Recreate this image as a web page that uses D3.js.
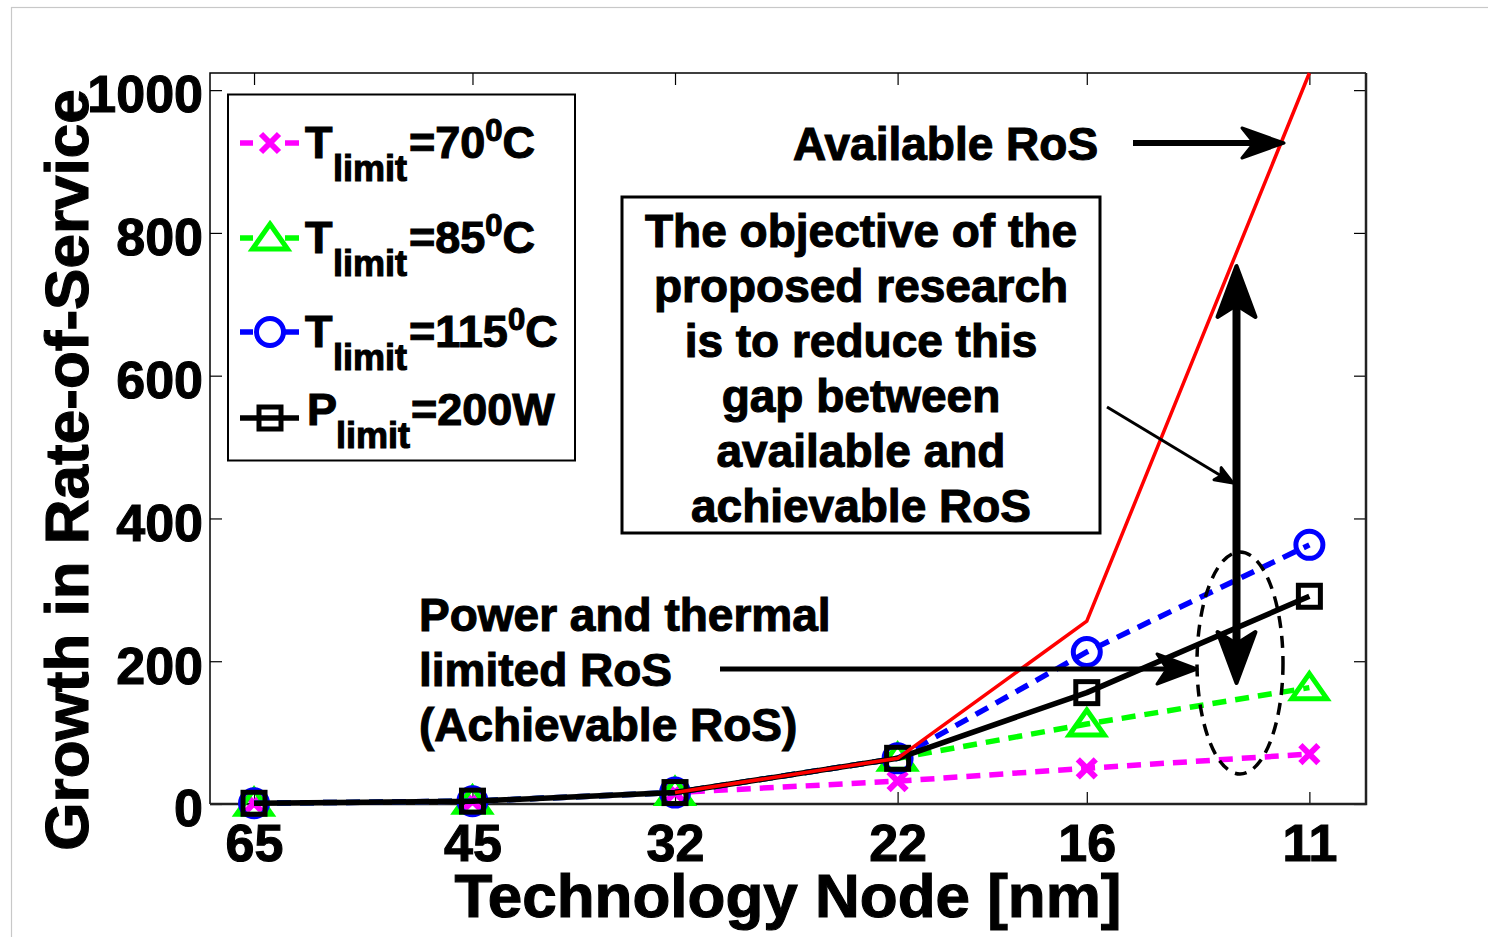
<!DOCTYPE html>
<html>
<head>
<meta charset="utf-8">
<script src="https://cdn.jsdelivr.net/npm/d3@7"></script>
<style>
  html, body { margin: 0; padding: 0; background: #fff; }
  svg { display: block; }
  text { font-family: "Liberation Sans", Arial, Helvetica, sans-serif; font-weight: bold; fill: #000;
         stroke: #000; stroke-width: 1.1px; }
</style>
</head>
<body>
<svg id="chart" width="1488" height="937"></svg>
<script>
// Technology nodes (nm) on a reversed log axis
const nodes = [65, 45, 32, 22, 16, 11];
const yTicks = [0, 200, 400, 600, 800, 1000];

// Growth in rate-of-service for each constraint
const tLimit70  = [1, 4, 16, 32, 50, 70];
const tLimit85  = [1, 4, 16, 64, 112, 163];
const tLimit115 = [1, 4, 16, 64, 213, 363];
const pLimit200 = [1, 4, 16, 64, 156, 291];
const availableRoS = [null, null, 16, 64, 256, 1024];

(function () {
const svg = d3.select("#chart");
const FONT = 52;

// light frame of the figure
svg.append("rect").attr("x", 11.5).attr("y", 7.5).attr("width", 1600).attr("height", 1000)
  .attr("fill", "none").attr("stroke", "#c8c8c8").attr("stroke-width", 1.2);

const pL = 210, pR = 1366, pT = 73, pB = 804;
const x = d3.scaleLog().domain([70, 10]).range([pL, pR]);
const y = d3.scaleLinear().domain([0, 1024]).range([pB, pT]);

// axes (inward ticks on all four sides)
const gx = svg.append("g").attr("transform", `translate(0,${pB})`)
  .call(d3.axisBottom(x).tickValues(nodes).tickFormat(d3.format("d")).tickSize(-12).tickSizeOuter(0).tickPadding(20));
const gxt = svg.append("g").attr("transform", `translate(0,${pT})`)
  .call(d3.axisTop(x).tickValues(nodes).tickFormat("").tickSize(-12).tickSizeOuter(0));
const gy = svg.append("g").attr("transform", `translate(${pL},0)`)
  .call(d3.axisLeft(y).tickValues(yTicks).tickFormat(d3.format("d")).tickSize(-12).tickSizeOuter(0).tickPadding(7));
const gyr = svg.append("g").attr("transform", `translate(${pR},0)`)
  .call(d3.axisRight(y).tickValues(yTicks).tickFormat("").tickSize(-12).tickSizeOuter(0));
[gx, gxt, gy, gyr].forEach(g => {
  g.select(".domain").remove();
  g.selectAll(".tick line").attr("stroke", "#000").attr("stroke-width", 1.2);
  g.selectAll(".tick text").attr("font-size", FONT).attr("font-family", null).attr("fill", "#000");
});
gy.selectAll(".tick text").attr("dy", "0.42em");

// plot box
svg.append("path")
  .attr("d", `M${pL},${pB}V${pT}H${pR}`)
  .attr("fill", "none").attr("stroke", "#000").attr("stroke-width", 1.5);
svg.append("path")
  .attr("d", `M${pL},${pB}H${pR}V${pT}`)
  .attr("fill", "none").attr("stroke", "#222").attr("stroke-width", 2.5);

// axis titles
svg.append("text").attr("x", (pL + pR) / 2).attr("y", 917)
  .attr("text-anchor", "middle").attr("font-size", 62).text("Technology Node [nm]");
svg.append("text").attr("transform", "translate(88,470) rotate(-90)")
  .attr("text-anchor", "middle").attr("font-size", 62).text("Growth in Rate-of-Service");

// marker shapes
const markers = {
  cross: (g, c) => g.append("path").attr("d", "M-9,-9L9,9M-9,9L9,-9")
    .attr("stroke", c).attr("stroke-width", 6).attr("fill", "none"),
  triangle: (g, c) => g.append("path").attr("d", "M0,-14L17.5,11L-17.5,11Z")
    .attr("stroke", c).attr("stroke-width", 5).attr("fill", "none").attr("stroke-linejoin", "miter"),
  circle: (g, c) => g.append("circle").attr("r", 13.5)
    .attr("stroke", c).attr("stroke-width", 5).attr("fill", "none"),
  square: (g, c) => g.append("rect").attr("x", -11).attr("y", -11).attr("width", 22).attr("height", 22)
    .attr("stroke", c).attr("stroke-width", 5).attr("fill", "none")
};

const series = [
  { values: tLimit70,  color: "#ff00ff", dash: "14,9", width: 5.5, marker: "cross" },
  { values: tLimit85,  color: "#00ff00", dash: "14,9", width: 5.5, marker: "triangle" },
  { values: tLimit115, color: "#0000ff", dash: "14,9", width: 5.5, marker: "circle" },
  { values: pLimit200, color: "#000000", dash: null,   width: 5.5, marker: "square" }
];

const line = d3.line()
  .defined(d => d.v != null)
  .x(d => x(d.n)).y(d => y(d.v));

const plot = svg.append("g");
series.forEach(s => {
  const pts = nodes.map((n, i) => ({ n, v: s.values[i] }));
  plot.append("path").datum(pts).attr("d", line)
    .attr("fill", "none").attr("stroke", s.color).attr("stroke-width", s.width)
    .attr("stroke-dasharray", s.dash).attr("stroke-linejoin", "round");
  pts.forEach(p => {
    const g = plot.append("g").attr("transform", `translate(${x(p.n)},${y(p.v)})`);
    markers[s.marker](g, s.color);
  });
});
plot.append("path").datum(nodes.map((n, i) => ({ n, v: availableRoS[i] }))).attr("d", line)
  .attr("fill", "none").attr("stroke", "#ff0000").attr("stroke-width", 3.5);

// legend
const leg = svg.append("g");
leg.append("rect").attr("x", 228).attr("y", 94.5).attr("width", 347).attr("height", 366)
  .attr("fill", "#fff").attr("stroke", "#000").attr("stroke-width", 2);
const legRows = [
  { lineY: 143, base: 158, main: "T", val: "=70",   sup: "0", unit: "C" },
  { lineY: 238, base: 253, main: "T", val: "=85",   sup: "0", unit: "C" },
  { lineY: 332, base: 347, main: "T", val: "=115",  sup: "0", unit: "C" },
  { lineY: 418, base: 425, main: "P", val: "=200W", sup: null, unit: null }
];
legRows.forEach((r, i) => {
  const s = series[i];
  leg.append("line").attr("x1", 240).attr("x2", 299).attr("y1", r.lineY).attr("y2", r.lineY)
    .attr("stroke", s.color).attr("stroke-width", s.width)
    .attr("stroke-dasharray", s.dash ? "13,32,14" : null);
  const g = leg.append("g").attr("transform", `translate(270,${r.lineY})`);
  markers[s.marker](g, s.color);
  const t = leg.append("text").attr("y", r.base).attr("font-size", 45);
  t.append("tspan").attr("x", r.main === "P" ? 307 : 305).text(r.main);
  t.append("tspan").attr("x", r.main === "P" ? 336 : 333).attr("dy", 23).attr("font-size", 36).text("limit");
  t.append("tspan").attr("x", r.main === "P" ? 411 : 409).attr("dy", -23).text(r.val);
  if (r.sup) {
    t.append("tspan").attr("dy", -17).attr("font-size", 31).text(r.sup);
    t.append("tspan").attr("dy", 17).text(r.unit);
  }
});

// annotations
const ann = svg.append("g");
function arrowHead(tipX, tipY, angle, len, half, notch) {
  // polygon pointing along angle (radians), tip at (tipX, tipY)
  const ca = Math.cos(angle), sa = Math.sin(angle);
  const pt = (a, b) => [tipX - a * ca - b * (-sa), tipY - a * sa - b * ca];
  const p = [pt(0, 0), pt(len, half), pt(len - notch, 0), pt(len, -half)];
  return "M" + p.map(q => q.join(",")).join("L") + "Z";
}
function arrow(x1, y1, x2, y2, w, len, half, notch) {
  const a = Math.atan2(y2 - y1, x2 - x1);
  const sx = x2 - (len - notch) * Math.cos(a), sy = y2 - (len - notch) * Math.sin(a);
  ann.append("line").attr("x1", x1).attr("y1", y1).attr("x2", sx).attr("y2", sy)
    .attr("stroke", "#000").attr("stroke-width", w);
  ann.append("path").attr("d", arrowHead(x2, y2, a, len, half, notch))
    .attr("fill", "#000").attr("stroke", "#000").attr("stroke-width", 3).attr("stroke-linejoin", "round");
}

ann.append("text").attr("x", 793).attr("y", 160).attr("font-size", 46).text("Available RoS");
arrow(1133, 143, 1284, 143, 6, 42, 15, 12);

ann.append("rect").attr("x", 622).attr("y", 197).attr("width", 478).attr("height", 336)
  .attr("fill", "#fff").attr("stroke", "#000").attr("stroke-width", 3);
const boxLines = ["The objective of the", "proposed research", "is to reduce this",
  "gap between", "available and", "achievable RoS"];
boxLines.forEach((l, i) => ann.append("text").attr("x", 861).attr("y", 247 + i * 55)
  .attr("text-anchor", "middle").attr("font-size", 46).text(l));

arrow(1107, 407, 1233, 483, 3, 18, 7, 4);

// double-headed gap arrow
ann.append("line").attr("x1", 1236.5).attr("x2", 1236.5).attr("y1", 300).attr("y2", 645)
  .attr("stroke", "#000").attr("stroke-width", 8);
ann.append("path").attr("d", arrowHead(1236.5, 266, -Math.PI / 2, 51, 19, 12))
  .attr("fill", "#000").attr("stroke", "#000").attr("stroke-width", 4).attr("stroke-linejoin", "round");
ann.append("path").attr("d", arrowHead(1236.5, 683, Math.PI / 2, 51, 19, 12))
  .attr("fill", "#000").attr("stroke", "#000").attr("stroke-width", 4).attr("stroke-linejoin", "round");

ann.append("ellipse").attr("cx", 1240).attr("cy", 663).attr("rx", 43).attr("ry", 111)
  .attr("fill", "none").attr("stroke", "#000").attr("stroke-width", 3.5).attr("stroke-dasharray", "12,8");

const lim = ["Power and thermal", "limited RoS", "(Achievable RoS)"];
lim.forEach((l, i) => ann.append("text").attr("x", 419).attr("y", 631 + i * 55)
  .attr("font-size", 46).text(l));
arrow(720, 669, 1197, 669, 5, 40, 15, 10);
})();
</script>
</body>
</html>
